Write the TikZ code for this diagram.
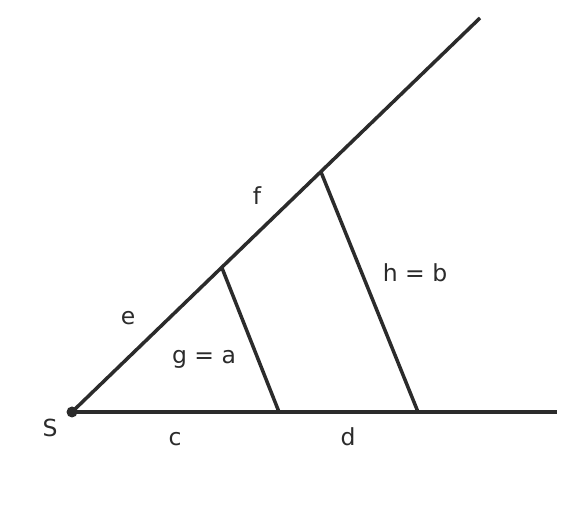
\documentclass[tikz,border=0pt]{standalone}
\usepackage{fontspec}
\setmainfont{DejaVu Sans}
\usetikzlibrary{positioning, calc}
\definecolor{inkgray}{HTML}{2B2B2B}
\tikzset{x=1pt, y=1pt, % One unit is one pixel of the picture
        every label node/.style={ % Sets the properties for each text
            text=inkgray,
            font=\fontsize{23.5}{28}\selectfont,
            inner sep=0pt},
        ray/.style={ % Sets the properties for each line
            draw=inkgray,
            line width=3.5pt,
            line cap=butt}
        }

\begin{document}
\begin{tikzpicture}
    \useasboundingbox (0,0) rectangle (576,524);

    \coordinate (S) at (72,112);
    \coordinate (A1) at (222,256);
    \coordinate (B1) at (321,352);
    \coordinate (Aend) at (480,506);
    \coordinate (C1) at (279,112);
    \coordinate (D1) at (418,112);
    \coordinate (Cend) at (557,112);

    \draw[ray] (S) -- (Aend);
    \draw[ray] (S) -- (Cend);
    \draw[ray] (A1) -- (C1);
    \draw[ray] (B1) -- (D1);
    \fill[inkgray] (S) circle (5.5);

    \node[every label node] (labS) at (50,96) {S};
    \node[every label node] (labc) at (175,85) {c};
    \node[every label node] (labd) at (348,87) {d};
    \node[every label node] (labe) at (128,206) {e};
    \node[every label node] (labf) at (257,328) {f};
    \node[every label node] (labga) at (204,165) {g = a};
    \node[every label node] (labhb) at (415,251) {h = b};
\end{tikzpicture}
\end{document}
